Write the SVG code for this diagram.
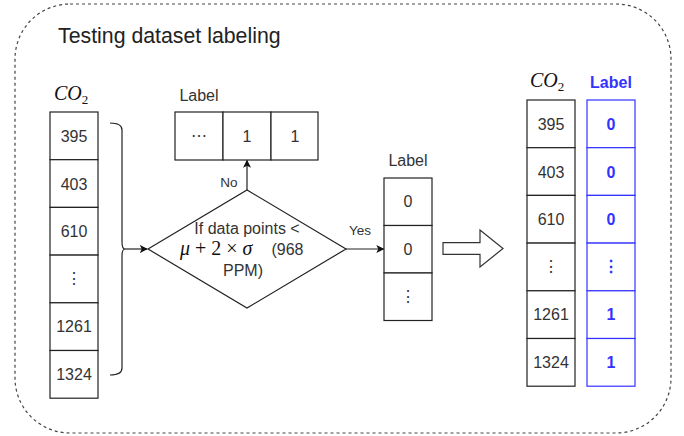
<svg xmlns="http://www.w3.org/2000/svg" width="684" height="436" viewBox="0 0 684 436">
  <defs>
    <marker id="arrow" viewBox="0 0 10 10" refX="9" refY="5" markerWidth="8" markerHeight="8" markerUnits="userSpaceOnUse" orient="auto">
      <path d="M0,0 L10,5 L0,10 L2.5,5 Z" fill="#111"/>
    </marker>
    <style>
      .cell { fill: #fff; stroke: #222; stroke-width: 1.2; }
      .bcell { fill: #fff; stroke: #3333ff; stroke-width: 1.2; }
      .t { font-family: "Liberation Sans", Arial, sans-serif; font-size: 16px; fill: #333; text-anchor: middle; }
      .tb { font-family: "Liberation Sans", Arial, sans-serif; font-size: 16px; font-weight: bold; fill: #3333ff; text-anchor: middle; }
      .math { font-family: "Liberation Serif", "DejaVu Serif", serif; font-size: 20px; fill: #111; }
      .edge { fill: none; stroke: #222; stroke-width: 1.2; }
      .lbl { font-family: "Liberation Sans", Arial, sans-serif; font-size: 13.5px; fill: #333; text-anchor: middle; }
    </style>
  </defs>

  <!-- container -->
  <g id="container">
    <rect x="15" y="4" width="656" height="429" rx="55" ry="55" fill="none" stroke="#444" stroke-width="1.2" stroke-dasharray="3,3"/>
    <text x="58" y="43" font-family="Liberation Sans, Arial, sans-serif" font-size="21.3" fill="#222">Testing dataset labeling</text>
  </g>

  <!-- input CO2 column -->
  <g id="co2-input">
    <text class="math" x="54" y="100" font-style="italic">CO<tspan font-size="13" dy="4" font-style="normal">2</tspan></text>
    <rect class="cell" x="50" y="112" width="48" height="47.7"/>
    <rect class="cell" x="50" y="159.7" width="48" height="47.7"/>
    <rect class="cell" x="50" y="207.4" width="48" height="47.7"/>
    <rect class="cell" x="50" y="255.1" width="48" height="47.7"/>
    <rect class="cell" x="50" y="302.8" width="48" height="47.7"/>
    <rect class="cell" x="50" y="350.5" width="48" height="47.7"/>
    <text class="t" x="74" y="141.5">395</text>
    <text class="t" x="74" y="189.5">403</text>
    <text class="t" x="74" y="236.5">610</text>
    <text class="t" x="74" y="284">⋮</text>
    <text class="t" x="74" y="332">1261</text>
    <text class="t" x="74" y="380">1324</text>
  </g>

  <!-- decision -->
  <g id="decision">
    <polygon points="148,249 247,190 346,249 247,308" fill="#fff" stroke="#222" stroke-width="1.2"/>
    <text class="t" x="247" y="234">If data points &lt;</text>
    <text x="180" y="255" font-size="16" fill="#111"><tspan class="math" font-style="italic" font-size="22">μ</tspan><tspan class="math" font-size="22"> + 2 × </tspan><tspan class="math" font-style="italic" font-size="22">σ</tspan><tspan font-family="Liberation Sans, Arial, sans-serif" font-size="16" fill="#333" dx="19">(968</tspan></text>
    <text class="t" x="243" y="276">PPM)</text>
  </g>

  <!-- label row for values above threshold -->
  <g id="label-high">
    <text class="t" x="199" y="101">Label</text>
    <rect class="cell" x="175" y="112" width="48" height="48"/>
    <rect class="cell" x="223" y="112" width="48" height="48"/>
    <rect class="cell" x="271" y="112" width="47" height="48"/>
    <text class="t" x="199" y="141">⋯</text>
    <text class="t" x="247" y="141.5">1</text>
    <text class="t" x="295" y="141.5">1</text>
  </g>

  <!-- label column for values below threshold -->
  <g id="label-low">
    <text class="t" x="408" y="166">Label</text>
    <rect class="cell" x="384" y="178" width="48" height="47.5"/>
    <rect class="cell" x="384" y="225.5" width="48" height="47.5"/>
    <rect class="cell" x="384" y="273" width="48" height="47.5"/>
    <text class="t" x="408" y="207">0</text>
    <text class="t" x="408" y="255">0</text>
    <text class="t" x="408" y="302">⋮</text>
  </g>

  <!-- transition arrow -->
  <g id="transition">
    <polygon points="443,242.7 480,242.7 480,230 503,248.5 480,267 480,254.3 443,254.3" fill="#fff" stroke="#333" stroke-width="1.2"/>
  </g>

  <!-- labelled output table -->
  <g id="co2-output">
    <text class="math" x="530" y="87" font-style="italic">CO<tspan font-size="13" dy="4" font-style="normal">2</tspan></text>
    <rect class="cell" x="527" y="100" width="48" height="47.7"/>
    <rect class="cell" x="527" y="147.7" width="48" height="47.7"/>
    <rect class="cell" x="527" y="195.4" width="48" height="47.7"/>
    <rect class="cell" x="527" y="243.1" width="48" height="47.7"/>
    <rect class="cell" x="527" y="290.8" width="48" height="47.7"/>
    <rect class="cell" x="527" y="338.5" width="48" height="47.7"/>
    <text class="t" x="551" y="129.5">395</text>
    <text class="t" x="551" y="177.5">403</text>
    <text class="t" x="551" y="224.5">610</text>
    <text class="t" x="551" y="272">⋮</text>
    <text class="t" x="551" y="320">1261</text>
    <text class="t" x="551" y="368">1324</text>
  </g>

  <g id="label-output">
    <text class="tb" x="611" y="88">Label</text>
    <rect class="bcell" x="587" y="100" width="48" height="47.7"/>
    <rect class="bcell" x="587" y="147.7" width="48" height="47.7"/>
    <rect class="bcell" x="587" y="195.4" width="48" height="47.7"/>
    <rect class="bcell" x="587" y="243.1" width="48" height="47.7"/>
    <rect class="bcell" x="587" y="290.8" width="48" height="47.7"/>
    <rect class="bcell" x="587" y="338.5" width="48" height="47.7"/>
    <text class="tb" x="611" y="129.5">0</text>
    <text class="tb" x="611" y="177.5">0</text>
    <text class="tb" x="611" y="224.5">0</text>
    <text class="tb" x="611" y="272">⋮</text>
    <text class="tb" x="611" y="320">1</text>
    <text class="tb" x="611" y="368">1</text>
  </g>

  <!-- connectors -->
  <g id="connectors">
    <path class="edge" d="M110,123 Q122,123 122,130 L122,242 Q122,249 125,249 Q122,249 122,256 L122,368 Q122,375 110,375"/>
    <line class="edge" x1="125" y1="249" x2="147" y2="249" marker-end="url(#arrow)"/>
    <line class="edge" x1="247" y1="190" x2="247" y2="160.5" marker-end="url(#arrow)"/>
    <text class="lbl" x="229" y="187">No</text>
    <line class="edge" x1="346" y1="249" x2="383.5" y2="249" marker-end="url(#arrow)"/>
    <text class="lbl" x="360" y="235">Yes</text>
  </g>
</svg>
